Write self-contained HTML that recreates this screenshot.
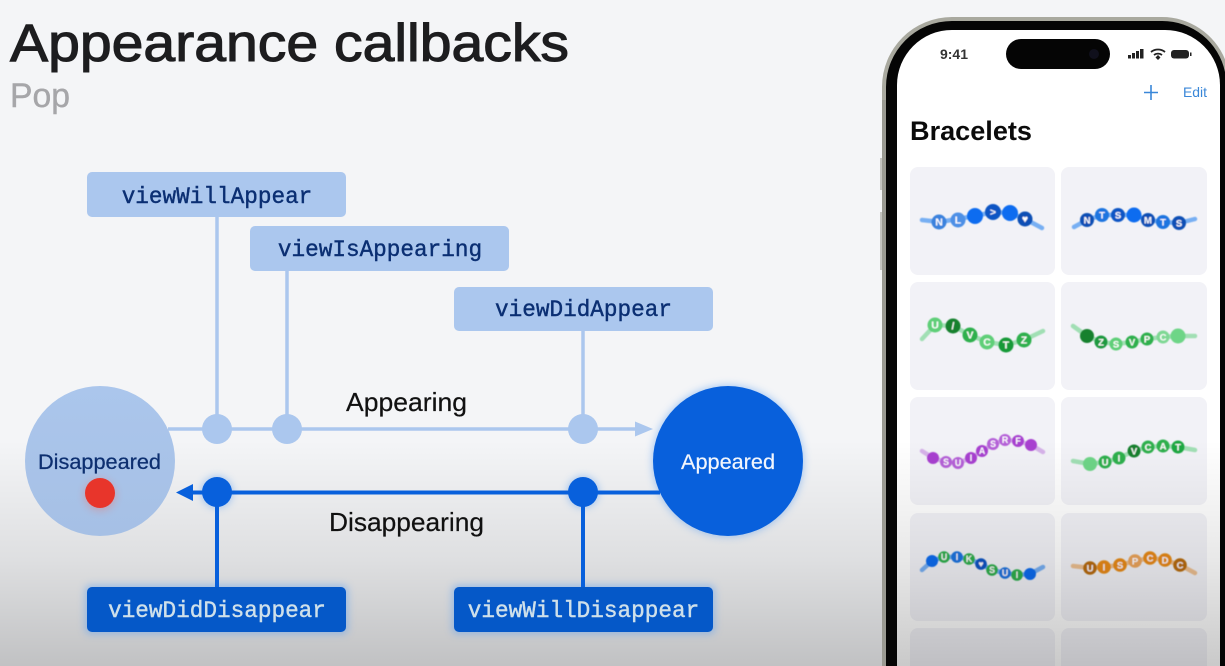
<!DOCTYPE html>
<html lang="en">
<head>
<meta charset="utf-8">
<title>Appearance callbacks</title>
<style>
html,body{margin:0;padding:0;width:1225px;height:666px;overflow:hidden;background:#f4f5f7}
svg{display:block}
text{font-family:"Liberation Sans",sans-serif}
.m{font-family:"Liberation Mono",monospace;font-size:22.7px;font-weight:400;text-anchor:middle;stroke-width:.4}
.b text{font-size:10.5px;font-weight:700;fill:#fff;text-anchor:middle;stroke:none;transform:translateY(.7px)}
.b.s text{font-size:8.800px;transform:translateY(.2px)}
.b.t text{font-size:9.500px;transform:translateY(.4px)}
.l{fill:none;stroke-width:4.500;stroke-linecap:round;stroke-linejoin:round;opacity:.62}
</style>
</head>
<body>
<svg width="1225" height="666" viewBox="0 0 1225 666" xmlns="http://www.w3.org/2000/svg">
<defs>
<linearGradient id="shade" x1="0" y1="0" x2="0" y2="1">
<stop offset="0" stop-color="#000" stop-opacity="0"/>
<stop offset=".53" stop-color="#000" stop-opacity=".09"/>
<stop offset="1" stop-color="#000" stop-opacity=".21"/>
</linearGradient>
<linearGradient id="disc" x1="0" y1="0" x2="0" y2="1">
<stop offset="0" stop-color="#abc6ec"/>
<stop offset="1" stop-color="#a6c0e5"/>
</linearGradient>
<filter id="glow" x="-40%" y="-40%" width="180%" height="180%"><feGaussianBlur stdDeviation="4"/></filter>
<filter id="soft" x="-5%" y="-5%" width="110%" height="110%"><feGaussianBlur stdDeviation=".45"/></filter>
</defs>

<rect width="1225" height="666" fill="#f4f5f7"/>

<!-- Phone -->
<rect x="880" y="158" width="3" height="32" fill="#c4c4c0"/>
<rect x="880" y="212" width="3" height="58" fill="#c4c4c0"/>
<path d="M882 666V87A70 70 0 0 1 952 17H1162A68 68 0 0 1 1225 59.400V666Z" fill="#a9a99f"/>
<path d="M886 666V87A66 66 0 0 1 952 21H1162A64 64 0 0 1 1225 72V666Z" fill="#050505"/>
<path d="M897 666V85A55 55 0 0 1 952 30H1165A55 55 0 0 1 1220 85V666Z" fill="#fff"/>
<rect x="1006" y="39" width="104" height="30" rx="15" fill="#050505"/>
<circle cx="1094" cy="54" r="5" fill="#10101c"/>

<text x="940" y="59" font-size="14" font-weight="700" fill="#333" textLength="28" lengthAdjust="spacingAndGlyphs">9:41</text>
<g fill="#222">
<rect x="1128" y="55" width="3" height="3.500"/><rect x="1132" y="53" width="3" height="5.500"/><rect x="1136" y="51" width="3" height="7.500"/><rect x="1140" y="49" width="3.500" height="9.500"/>
<rect x="1171" y="50" width="18" height="8.500" rx="3"/><rect x="1190" y="52.500" width="1.500" height="3.500"/>
</g>
<path d="M1151 52a11 11 0 0 1 14 0M1154 55a6.500 6.500 0 0 1 8 0" fill="none" stroke="#222" stroke-width="1.800"/>
<path d="M1155.500 57.500l2.500-2.500l2.500 2.500l-2.500 2.500z" fill="#222"/>

<path d="M1151 85v15M1144 92.500h14" stroke="#3a87d8" stroke-width="1.600" fill="none"/>
<text x="1183" y="97" font-size="14" fill="#3a87d8" textLength="24" lengthAdjust="spacingAndGlyphs">Edit</text>
<text x="910" y="140" font-size="27" font-weight="700" fill="#0b0b0b" textLength="122" lengthAdjust="spacingAndGlyphs">Bracelets</text>

<g fill="#f2f2f7">
<rect x="910" y="167" width="145" height="108" rx="8"/><rect x="1061" y="167" width="146" height="108" rx="8"/>
<rect x="910" y="282" width="145" height="108" rx="8"/><rect x="1061" y="282" width="146" height="108" rx="8"/>
<rect x="910" y="397" width="145" height="108" rx="8"/><rect x="1061" y="397" width="146" height="108" rx="8"/>
<rect x="910" y="513" width="145" height="108" rx="8"/><rect x="1061" y="513" width="146" height="108" rx="8"/>
<path d="M910 666V636A8 8 0 0 1 918 628H1047A8 8 0 0 1 1055 636V666Z"/>
<path d="M1061 666V636A8 8 0 0 1 1069 628H1199A8 8 0 0 1 1207 636V666Z"/>
</g>

<g filter="url(#soft)">
<!-- 1 -->
<polyline class="l" stroke="#2f86f0" points="922,220 940,222 957,219 975,216 993,212 1010,213 1025,219 1042,228"/>
<g class="b">
<circle cx="939" cy="222" r="7.500" fill="#3b82dd"/><text x="939" y="225">N</text>
<circle cx="958" cy="220" r="7.500" fill="#4d90e6"/><text x="958" y="223">L</text>
<circle cx="975" cy="216" r="8" fill="#0a6cf0"/>
<circle cx="993" cy="212" r="8" fill="#0b55c4"/><text x="993" y="215">&gt;</text>
<circle cx="1010" cy="213" r="8" fill="#0a6cf0"/>
<circle cx="1025" cy="219" r="7.500" fill="#0b4fb5"/><text x="1025" y="222">♥</text>
</g>
<!-- 2 -->
<polyline class="l" stroke="#2f86f0" points="1074,227 1087,220 1102,215 1118,215 1134,215 1148,220 1163,222 1179,223 1195,219"/>
<g class="b t">
<circle cx="1087" cy="220" r="7" fill="#0b4fb5"/><text x="1087" y="223">N</text>
<circle cx="1102" cy="215" r="7" fill="#1d74e0"/><text x="1102" y="218">T</text>
<circle cx="1118" cy="215" r="7" fill="#0b55c4"/><text x="1118" y="218">S</text>
<circle cx="1134" cy="215" r="7.500" fill="#0a6cf0"/>
<circle cx="1148" cy="220" r="7" fill="#0b4fb5"/><text x="1148" y="223">M</text>
<circle cx="1163" cy="222" r="7" fill="#1d74e0"/><text x="1163" y="225">T</text>
<circle cx="1179" cy="223" r="7" fill="#0b4fb5"/><text x="1179" y="226">S</text>
</g>
<!-- 3 -->
<polyline class="l" stroke="#6fd48a" points="922,339 935,325 953,326 970,335 987,342 1006,345 1024,340 1043,331"/>
<g class="b">
<circle cx="935" cy="325" r="7.500" fill="#5fcf78"/><text x="935" y="328">U</text>
<circle cx="953" cy="326" r="7.500" fill="#15812f"/><text x="953" y="329">/</text>
<circle cx="970" cy="335" r="7.500" fill="#2eb04e"/><text x="970" y="338">V</text>
<circle cx="987" cy="342" r="7.500" fill="#5fcf78"/><text x="987" y="345">C</text>
<circle cx="1006" cy="345" r="7.500" fill="#169a38"/><text x="1006" y="348">T</text>
<circle cx="1024" cy="340" r="7.500" fill="#2eb04e"/><text x="1024" y="343">Z</text>
</g>
<!-- 4 -->
<polyline class="l" stroke="#6fd48a" points="1073,326 1087,336 1101,342 1116,344 1132,342 1147,339 1163,337 1178,336 1195,336"/>
<g class="b t">
<circle cx="1087" cy="336" r="7" fill="#15812f"/>
<circle cx="1101" cy="342" r="6.500" fill="#1f9a40"/><text x="1101" y="345">Z</text>
<circle cx="1116" cy="344" r="6.500" fill="#5fcf78"/><text x="1116" y="347">S</text>
<circle cx="1132" cy="342" r="6.500" fill="#2eb04e"/><text x="1132" y="345">V</text>
<circle cx="1147" cy="339" r="6.500" fill="#2eb04e"/><text x="1147" y="342">P</text>
<circle cx="1163" cy="337" r="6.500" fill="#7fd894"/><text x="1163" y="340">C</text>
<circle cx="1178" cy="336" r="7.500" fill="#6ed587"/>
</g>
<!-- 5 -->
<polyline class="l" stroke="#c58be0" points="922,451 933,458 946,462 958,463 971,458 982,451 993,444 1005,440 1018,441 1031,445 1043,452"/>
<g class="b s">
<circle cx="933" cy="458" r="6" fill="#a83fd0"/>
<circle cx="946" cy="462" r="6" fill="#b560d8"/><text x="946" y="465">S</text>
<circle cx="958" cy="463" r="6" fill="#b560d8"/><text x="958" y="466">U</text>
<circle cx="971" cy="458" r="6" fill="#a83fd0"/><text x="971" y="461">I</text>
<circle cx="982" cy="451" r="6" fill="#a83fd0"/><text x="982" y="454">A</text>
<circle cx="993" cy="444" r="6" fill="#b560d8"/><text x="993" y="447">S</text>
<circle cx="1005" cy="440" r="6" fill="#b560d8"/><text x="1005" y="443">R</text>
<circle cx="1018" cy="441" r="6" fill="#a83fd0"/><text x="1018" y="444">F</text>
<circle cx="1031" cy="445" r="6" fill="#a83fd0"/>
</g>
<!-- 6 -->
<polyline class="l" stroke="#6fd48a" points="1073,461 1090,464 1105,462 1119,458 1134,451 1148,447 1163,446 1178,447 1195,450"/>
<g class="b t">
<circle cx="1090" cy="464" r="7" fill="#6ed587"/>
<circle cx="1105" cy="462" r="6.500" fill="#2eb04e"/><text x="1105" y="465">U</text>
<circle cx="1119" cy="458" r="6.500" fill="#2eb04e"/><text x="1119" y="461">I</text>
<circle cx="1134" cy="451" r="6.500" fill="#15812f"/><text x="1134" y="454">V</text>
<circle cx="1148" cy="447" r="6.500" fill="#2eb04e"/><text x="1148" y="450">C</text>
<circle cx="1163" cy="446" r="6.500" fill="#2eb04e"/><text x="1163" y="449">A</text>
<circle cx="1178" cy="447" r="6.500" fill="#1fa843"/><text x="1178" y="450">T</text>
</g>
<!-- 7 -->
<polyline class="l" stroke="#2f86f0" points="922,570 932,561 944,557 957,557 969,559 981,564 992,570 1005,573 1017,575 1030,574 1043,567"/>
<g class="b s">
<circle cx="932" cy="561" r="6" fill="#0a6cf0"/>
<circle cx="944" cy="557" r="5.800" fill="#2eb04e"/><text x="944" y="560">U</text>
<circle cx="957" cy="557" r="5.800" fill="#1d74e0"/><text x="957" y="560">I</text>
<circle cx="969" cy="559" r="5.800" fill="#2eb04e"/><text x="969" y="562">K</text>
<circle cx="981" cy="564" r="5.800" fill="#0b55c4"/><text x="981" y="567">♥</text>
<circle cx="992" cy="570" r="5.800" fill="#2eb04e"/><text x="992" y="573">S</text>
<circle cx="1005" cy="573" r="5.800" fill="#1d74e0"/><text x="1005" y="576">U</text>
<circle cx="1017" cy="575" r="5.800" fill="#2eb04e"/><text x="1017" y="578">I</text>
<circle cx="1030" cy="574" r="6" fill="#0a6cf0"/>
</g>
<!-- 8 -->
<polyline class="l" stroke="#e8a050" points="1073,566 1090,568 1104,567 1120,565 1135,561 1150,558 1165,560 1180,565 1195,573"/>
<g class="b t">
<circle cx="1090" cy="568" r="6.800" fill="#b86c0c"/><text x="1090" y="571">U</text>
<circle cx="1104" cy="567" r="6.800" fill="#e88a12"/><text x="1104" y="570">I</text>
<circle cx="1120" cy="565" r="6.800" fill="#e88a12"/><text x="1120" y="568">S</text>
<circle cx="1135" cy="561" r="6.800" fill="#eba45a"/><text x="1135" y="564">P</text>
<circle cx="1150" cy="558" r="6.800" fill="#e88a12"/><text x="1150" y="561">C</text>
<circle cx="1165" cy="560" r="6.800" fill="#e88a12"/><text x="1165" y="563">D</text>
<circle cx="1180" cy="565" r="6.800" fill="#b86c0c"/><text x="1180" y="568">C</text>
</g>
</g>

<!-- Bottom shade -->
<rect x="0" y="440" width="1225" height="226" fill="url(#shade)"/>
<rect x="1220" y="100" width="5" height="566" fill="#050505"/>
<rect x="886" y="100" width="11" height="566" fill="#050505"/>
<rect x="882" y="100" width="4" height="566" fill="#9a9a92"/>

<!-- Title -->
<text x="10" y="61" font-size="53" fill="#1d1d1f" stroke="#1d1d1f" stroke-width="1.100" textLength="559" lengthAdjust="spacingAndGlyphs">Appearance callbacks</text>
<text x="10" y="107" font-size="34" fill="#a6a6a9" stroke="#a6a6a9" stroke-width=".4" textLength="60" lengthAdjust="spacingAndGlyphs">Pop</text>

<!-- Light connectors -->
<g stroke="#abc7ee" stroke-width="3.500" fill="none">
<path d="M217 217V429M287 271V429M583 331V429M168 429H640"/>
</g>
<path d="M635 421.500L653 429L635 436.500z" fill="#abc7ee"/>
<circle cx="217" cy="429" r="15" fill="#abc7ee"/>
<circle cx="287" cy="429" r="15" fill="#abc7ee"/>
<circle cx="583" cy="429" r="15" fill="#abc7ee"/>

<!-- Light boxes -->
<rect x="87" y="172" width="259" height="45" rx="5" fill="#abc7ee"/>
<rect x="250" y="226" width="259" height="45" rx="5" fill="#abc7ee"/>
<rect x="454" y="287" width="259" height="44" rx="5" fill="#abc7ee"/>
<g fill="#0b2f73" stroke="#0b2f73">
<text class="m" x="217" y="203">viewWillAppear</text>
<text class="m" x="380" y="256">viewIsAppearing</text>
<text class="m" x="583.500" y="316">viewDidAppear</text>
</g>

<!-- Glow -->
<g filter="url(#glow)" opacity=".5" fill="#5c9ef0">
<circle cx="728" cy="461" r="76"/>
<circle cx="217" cy="492" r="16"/>
<circle cx="583" cy="492" r="16"/>
<rect x="85" y="585" width="263" height="49" rx="5"/>
<rect x="452" y="585" width="263" height="49" rx="5"/>
</g>

<!-- States -->
<circle cx="100" cy="461" r="75" fill="url(#disc)"/>
<circle cx="728" cy="461" r="75" fill="#0860dc"/>
<text x="38" y="469" font-size="21" fill="#0d2f70" stroke="#0d2f70" stroke-width=".25" textLength="123" lengthAdjust="spacingAndGlyphs">Disappeared</text>
<text x="681" y="469" font-size="21" fill="#f2f6fd" stroke="#f2f6fd" stroke-width=".2" textLength="94" lengthAdjust="spacingAndGlyphs">Appeared</text>
<circle cx="100" cy="495" r="16" fill="#e8786e" filter="url(#glow)" opacity=".4"/>
<circle cx="100" cy="493" r="15" fill="#e8352b"/>

<!-- Dark connectors -->
<g stroke="#0860dc" stroke-width="4" fill="none">
<path d="M660 492.500H190M217 492V587M583 492V587"/>
</g>
<path d="M193 484L176 492.500L193 501z" fill="#0860dc"/>
<circle cx="217" cy="492" r="15" fill="#0860dc"/>
<circle cx="583" cy="492" r="15" fill="#0860dc"/>

<!-- Dark boxes -->
<rect x="87" y="587" width="259" height="45" rx="5" fill="#0558c8"/>
<rect x="454" y="587" width="259" height="45" rx="5" fill="#0558c8"/>
<g fill="#cfe0ea" stroke="#cfe0ea">
<text class="m" x="217" y="617">viewDidDisappear</text>
<text class="m" x="583.500" y="617">viewWillDisappear</text>
</g>

<!-- Edge labels -->
<text x="346" y="411" font-size="26" fill="#111" stroke="#111" stroke-width=".2" textLength="121" lengthAdjust="spacingAndGlyphs">Appearing</text>
<text x="329" y="531" font-size="26" fill="#111" stroke="#111" stroke-width=".2" textLength="155" lengthAdjust="spacingAndGlyphs">Disappearing</text>
</svg>
</body>
</html>
